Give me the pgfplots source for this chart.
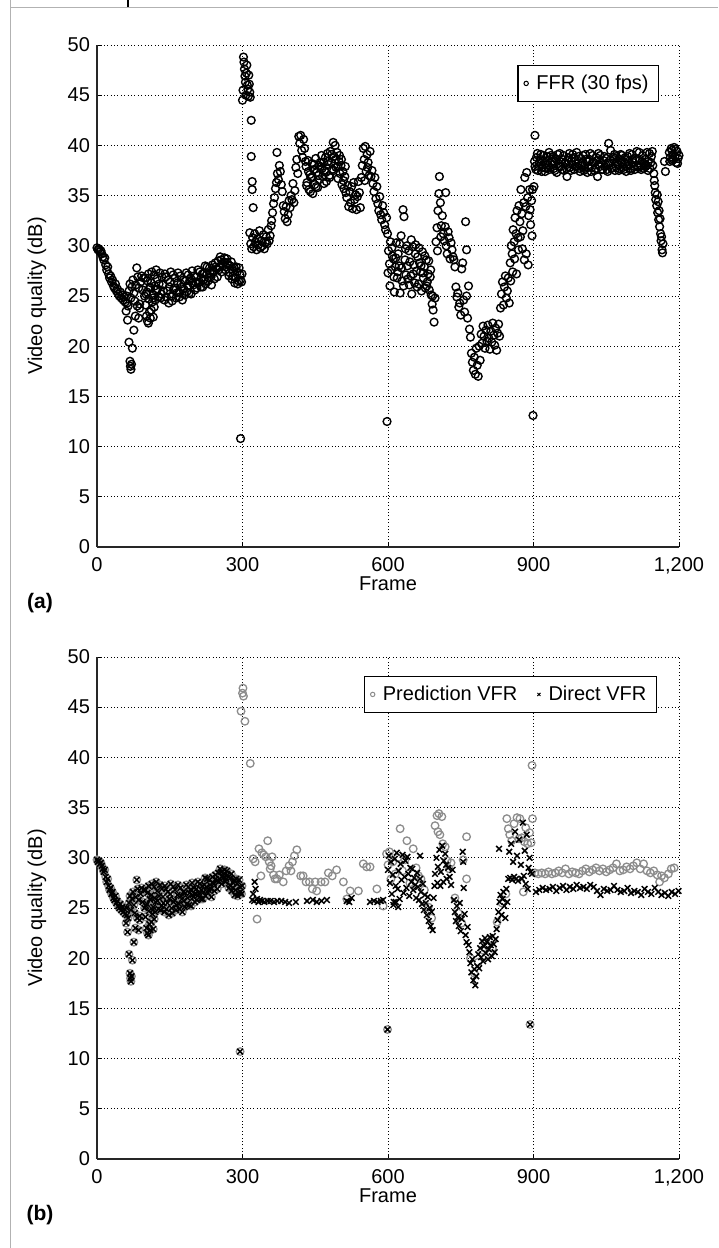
\documentclass[border=0pt]{standalone}
\usepackage{pgfplots}
\usepackage{pgfplotstable}
\pgfplotsset{compat=1.18}
\usepackage{fontspec}
\setmainfont{Liberation Sans}

% frames 0-299: identical in FFR (a) and in both VFR series (b)
\pgfplotstableread{
x y
0 29.8
2 29.6
4 29.7
6 29.4
8 29.5
10 29.2
12 28.9
14 28.6
16 28.8
18 28.1
20 27.6
22 27.9
24 27.2
26 26.8
28 27.0
30 26.4
32 26.6
34 26.0
36 25.8
38 26.2
40 25.5
42 25.7
44 25.2
46 25.0
48 25.4
50 24.8
52 25.1
54 24.6
56 24.9
58 24.4
60 23.5
61 25.0
62 24.3
63 22.6
64 24.0
66 20.4
66 25.5
68 18.5
68 26.2
69 18.0
70 17.7
70 24.8
71 18.2
72 25.9
73 19.8
74 26.6
76 21.6
76 25.3
78 24.5
79 23.0
80 26.1
82 27.8
83 24.0
84 26.9
86 22.8
86 25.8
88 23.8
88 24.2
90 26.4
92 27.0
94 25.6
96 26.8
98 25.0
100 24.1
100 26.8
101 25.2
102 23.0
103 25.4
104 22.5
104 26.5
106 22.3
106 27.2
107 24.7
108 23.4
109 25.9
110 22.8
110 25.8
112 23.6
112 26.3
113 27.4
114 24.4
115 24.8
116 22.9
116 25.1
118 23.9
118 27.1
119 26.0
120 24.6
121 25.6
122 27.6
124 26.7
125 25.7
127 24.9
128 26.2
130 27.3
131 24.8
133 25.2
134 26.9
136 26.1
137 25.5
139 24.6
140 27.2
142 26.9
143 24.9
145 25.5
146 26.6
148 24.3
149 25.9
151 26.4
152 27.4
154 25.0
155 24.5
157 27.1
158 25.6
160 25.8
161 26.8
163 24.8
164 25.3
166 26.3
167 27.3
169 25.4
170 24.9
172 27.0
173 26.2
175 25.9
176 24.6
178 26.6
179 25.7
181 25.1
182 26.5
184 27.3
185 25.4
187 26.0
188 27.1
190 25.3
191 26.5
193 26.8
194 25.2
196 27.5
197 26.3
199 26.1
200 27.0
202 25.6
203 26.4
205 26.9
206 25.8
208 27.6
209 26.3
211 26.4
212 27.4
214 25.9
215 26.8
217 27.2
218 25.9
220 26.6
221 27.3
223 28.0
224 26.2
226 27.1
227 27.9
229 26.5
230 26.8
232 27.8
233 27.3
235 26.9
236 26.1
238 28.1
239 27.5
241 27.4
242 26.7
244 28.3
245 27.9
247 27.7
248 26.9
250 28.5
251 27.6
253 27.9
254 28.9
256 28.6
257 27.4
259 28.2
260 28.0
262 28.4
263 28.8
265 27.6
266 27.9
268 28.7
269 28.3
271 28.1
272 27.0
274 27.3
275 28.0
277 28.4
278 26.7
280 27.0
281 27.5
283 27.8
284 26.3
286 26.8
287 27.9
289 27.4
290 26.2
292 26.5
293 27.8
295 27.1
296 26.6
298 26.4
299 27.2
}\ffrA

% (a) FFR, frames 295-1200
\pgfplotstableread{
x y
296 10.8
300 44.5
301 45.5
302 48.8
303 48.3
304 47.6
305 46.9
306 46.3
307 45.0
308 47.2
309 48.0
310 46.0
311 45.6
312 44.9
313 47.0
314 46.1
315 45.3
316 44.8
318 42.5
318 38.9
320 36.4
320 35.6
322 33.8
315 31.3
317 30.2
319 29.7
321 30.8
323 29.9
325 31.2
327 30.4
329 29.6
331 30.7
333 30.1
335 31.5
337 29.8
339 30.5
341 30.0
343 31.1
345 29.7
347 30.3
349 30.9
351 30.2
353 31.6
355 30.5
357 31.0
359 32.0
360 32.5
362 33.3
364 34.2
366 34.8
368 35.7
370 36.3
371 39.3
372 37.2
374 36.6
376 38.0
378 37.4
380 36.1
382 35.4
384 34.0
386 33.4
388 32.7
390 33.9
392 32.4
394 33.1
396 34.5
398 33.8
400 35.0
402 34.6
404 36.2
406 34.3
408 35.5
410 37.8
412 38.6
414 37.2
416 40.9
418 40.2
420 41.0
422 39.5
424 38.8
426 40.6
428 39.7
430 38.4
431 37.9
432 36.0
433 36.3
435 38.5
436 37.4
437 35.6
439 37.1
440 35.4
441 36.8
443 38.2
444 36.9
445 35.2
447 37.6
448 38.1
449 36.1
451 38.7
452 35.9
453 37.3
455 35.8
456 37.0
457 38.0
459 36.6
460 38.3
461 37.9
463 39.0
464 37.7
465 36.9
467 38.3
468 36.2
469 37.5
471 38.8
472 37.3
473 36.4
475 39.2
476 38.4
477 38.1
479 37.0
480 36.8
481 39.4
483 38.3
484 39.1
485 37.6
487 40.3
488 37.5
489 38.9
491 40.0
492 38.6
493 37.8
495 39.3
496 37.9
497 36.7
499 38.4
500 39.0
501 37.2
503 38.0
504 38.6
505 36.1
507 37.4
508 36.5
509 35.7
511 36.9
512 37.9
513 35.3
515 34.8
517 36.0
519 33.9
521 35.4
523 34.3
525 35.9
527 33.7
529 36.3
531 34.6
533 35.1
535 33.6
537 34.9
539 36.4
541 35.3
543 33.8
545 36.8
547 38.0
549 39.7
551 38.6
552 36.5
553 39.9
555 37.4
557 39.1
558 37.8
559 38.3
561 37.0
563 39.4
565 36.9
567 37.5
569 36.2
571 35.4
573 36.8
575 34.7
577 35.9
579 34.2
581 33.5
583 34.9
585 33.1
587 32.6
589 34.0
591 33.3
593 32.1
595 31.6
597 32.8
598 12.5
599 31.2
600 27.3
601 29.5
603 28.2
604 26.0
605 30.4
607 27.6
608 29.8
609 29.0
611 28.7
612 26.9
613 25.4
615 27.9
616 28.8
617 30.3
619 26.8
620 27.4
621 29.2
623 28.0
624 30.2
625 25.3
627 31.0
628 27.8
629 26.5
631 33.6
632 26.0
633 32.9
635 28.6
636 29.7
637 27.1
639 30.0
640 28.0
641 26.7
643 29.5
644 26.1
645 28.4
647 27.0
648 30.6
649 25.2
651 29.9
652 27.2
653 28.1
655 26.3
656 29.2
657 30.1
659 27.5
660 25.9
661 28.9
663 26.2
664 29.8
665 28.3
667 27.4
668 28.0
669 25.5
671 29.4
672 27.3
673 26.8
675 27.9
676 29.0
677 25.8
679 28.6
680 26.0
681 26.4
683 27.2
684 28.5
685 25.6
687 26.9
688 27.6
689 25.1
691 24.2
692 25.0
693 23.6
695 22.4
697 24.8
699 30.4
701 31.8
702 29.5
703 33.5
705 35.2
706 36.9
708 34.3
709 30.9
710 32.0
712 33.0
714 31.2
716 30.5
718 31.9
719 35.3
720 30.0
722 29.2
724 31.4
726 30.8
728 28.7
730 30.3
732 29.6
734 28.9
736 28.6
738 27.9
740 25.9
742 24.9
744 25.3
746 23.9
748 24.3
750 23.1
752 27.7
754 28.3
756 24.6
758 23.4
760 32.4
762 25.0
762 29.6
764 22.8
766 26.0
768 21.7
770 20.9
772 19.3
774 18.4
776 17.6
778 18.9
780 17.2
782 19.8
784 18.1
786 17.0
788 20.0
790 18.6
792 21.2
794 20.3
796 22.0
798 21.0
800 19.8
802 21.6
804 20.5
806 22.1
808 20.8
810 19.7
812 21.5
814 20.4
816 22.3
818 21.1
820 20.1
822 21.8
824 19.6
826 21.3
828 22.2
830 21.0
832 23.8
834 25.2
836 26.4
838 24.1
840 25.9
842 27.0
844 24.8
846 25.5
848 26.8
850 24.3
852 28.3
853 26.5
854 30.0
856 29.2
857 27.4
858 31.6
860 30.4
861 28.7
862 32.8
864 31.2
865 27.2
866 33.5
868 30.8
869 29.6
870 34.0
872 32.4
873 30.9
874 35.6
876 33.2
877 29.7
878 31.5
880 34.3
881 28.6
882 36.8
884 33.9
885 29.2
886 37.3
888 34.8
889 28.1
890 33.0
892 35.6
893 33.6
894 32.1
896 34.5
897 31.0
898 35.6
899 13.1
901 35.9
903 41.0
902 38.4
903 37.9
905 37.6
906 38.8
908 39.2
909 37.5
911 37.9
912 38.3
914 38.6
915 39.1
917 37.4
918 37.8
920 39.0
921 38.5
923 38.2
924 37.4
926 37.7
927 38.9
929 38.5
930 38.1
932 39.3
933 37.6
935 37.8
936 39.0
938 38.1
939 38.4
941 38.9
942 37.7
944 37.5
945 38.7
947 38.6
948 37.3
950 39.1
951 38.2
953 37.9
954 39.2
956 38.4
957 37.9
959 37.6
960 38.6
962 39.0
963 37.5
965 38.2
966 38.3
968 37.7
969 36.9
971 38.5
972 38.8
974 39.2
975 37.8
977 37.5
978 38.4
980 38.1
981 39.1
983 38.8
984 37.6
986 37.9
987 38.5
989 39.3
990 37.9
992 38.2
993 38.9
995 37.7
996 37.4
998 38.7
999 38.2
1001 38.0
1002 39.0
1004 37.5
1005 37.7
1007 39.1
1008 38.6
1010 38.4
1011 37.3
1013 37.8
1014 38.4
1016 38.6
1017 39.2
1019 37.4
1020 37.8
1022 39.0
1023 38.3
1025 38.3
1026 37.5
1028 37.7
1029 38.8
1031 38.5
1032 36.9
1034 39.2
1035 38.1
1037 37.9
1038 39.0
1040 38.2
1041 37.6
1043 37.6
1044 38.5
1046 38.9
1047 37.9
1049 38.1
1050 38.7
1052 37.6
1053 37.4
1055 40.2
1056 38.2
1058 38.3
1059 39.5
1061 37.7
1062 37.8
1064 38.8
1065 38.6
1067 39.1
1068 37.5
1070 37.9
1071 38.9
1073 38.4
1074 38.1
1076 37.5
1077 37.7
1079 38.6
1080 39.1
1082 39.0
1083 38.3
1085 37.8
1086 37.6
1088 38.2
1089 38.8
1091 37.4
1092 37.9
1094 38.9
1095 38.4
1097 38.0
1098 39.2
1100 37.7
1101 37.5
1103 39.1
1104 38.6
1106 38.3
1107 37.9
1109 37.6
1110 38.7
1112 38.5
1113 39.4
1115 38.0
1116 37.8
1118 39.3
1119 38.5
1121 37.9
1122 37.6
1124 38.4
1125 39.0
1127 37.7
1128 38.2
1130 38.6
1131 37.9
1133 38.0
1134 39.3
1136 37.5
1137 38.4
1139 39.2
1140 37.7
1142 38.3
1143 38.9
1145 39.4
1146 38.0
1148 37.2
1149 36.5
1150 36.0
1151 35.3
1152 34.6
1154 34.0
1155 35.1
1156 33.3
1157 34.4
1158 32.6
1159 33.5
1160 31.9
1161 32.7
1162 31.2
1163 30.5
1164 30.9
1165 29.6
1166 29.3
1167 30.2
1170 38.4
1172 37.4
1180 39.3
1181 38.4
1182 38.8
1184 39.7
1185 39.5
1186 38.5
1188 39.1
1189 38.6
1190 39.8
1192 38.9
1193 39.6
1194 38.3
1196 39.4
1197 38.2
1198 38.7
1200 39.0
}\ffrB

% (b) Prediction VFR, frames 295-1200
\pgfplotstableread{
x y
295 10.7
297 44.6
300 46.4
301 46.9
302 46.1
305 43.6
316 39.4
322 29.9
326 29.6
330 23.9
334 30.9
338 28.2
340 30.5
344 30.3
348 30.1
352 31.7
355 29.6
357 28.9
359 29.2
361 30.1
364 28.3
367 27.9
371 27.9
376 28.3
384 27.6
390 28.7
396 29.2
400 28.7
403 29.6
407 30.2
412 30.8
420 28.2
425 28.2
431 27.6
438 27.6
444 26.9
450 27.6
453 26.7
462 27.6
470 27.6
477 28.5
485 28.2
494 28.8
508 27.6
515 25.9
522 26.7
539 26.7
549 29.4
556 29.1
563 29.1
577 26.9
590 25.2
597 30.4
599 12.9
600 29.3
603 30.6
606 27.9
610 29.6
615 28.4
620 30.0
625 32.9
630 28.7
635 29.8
639 31.7
645 27.5
652 30.9
658 29.0
663 28.2
668 27.9
675 26.8
683 25.1
690 24.0
697 33.2
701 34.2
703 32.6
705 34.4
707 32.3
711 34.1
713 31.4
718 31.1
722 29.7
726 28.9
730 29.5
738 26.0
745 24.5
752 23.5
755 29.8
762 32.1
762 27.9
770 20.0
778 18.5
786 19.6
795 20.8
805 21.3
815 21.0
825 23.6
835 25.5
843 26.4
845 33.9
848 32.9
851 32.3
855 31.7
860 33.4
866 34.0
870 31.9
872 33.9
876 32.0
879 26.6
881 31.6
884 33.0
888 31.4
892 32.5
893 13.4
895 31.5
897 39.2
898 33.9
903 28.5
910 28.4
917 28.5
924 28.4
931 28.6
938 28.4
945 28.5
952 28.7
959 28.5
966 28.9
973 28.4
980 28.6
987 28.5
994 28.4
1001 28.7
1008 28.9
1015 28.6
1022 28.8
1029 29.0
1036 28.7
1043 28.9
1050 28.6
1057 28.8
1064 29.0
1071 29.4
1078 28.7
1085 28.8
1092 29.1
1099 28.9
1106 29.2
1113 29.5
1120 28.9
1127 29.4
1134 28.7
1141 28.5
1148 28.7
1155 28.3
1160 27.6
1164 28.2
1170 28.0
1178 28.4
1184 28.9
1190 29.0
}\predB

% (b) Direct VFR, frames 295-1200
\pgfplotstableread{
x y
295 10.7
320 25.8
322 26.4
324 25.7
325 27.6
327 26.9
330 25.9
333 25.6
336 25.8
340 25.7
345 25.6
352 25.7
358 25.7
365 25.6
372 25.7
380 25.7
388 25.6
396 25.5
410 25.6
433 25.7
445 25.8
453 25.6
463 25.7
474 25.8
515 25.7
520 25.6
525 26.0
563 25.6
571 25.7
578 25.6
585 25.7
590 25.8
599 12.9
600 28.8
602 30.2
604 27.5
606 29.6
608 26.4
610 28.3
611 25.3
612 25.6
614 29.9
616 27.2
616 25.6
618 30.5
620 26.9
621 25.1
622 28.7
624 25.9
626 29.4
628 27.8
630 30.3
632 26.5
634 28.1
636 29.7
638 27.0
640 30.1
642 28.4
644 26.2
646 29.0
648 27.6
650 28.9
652 26.8
654 28.0
656 27.3
658 26.0
660 28.5
662 27.1
664 25.8
666 30.2
666 27.9
668 26.6
670 25.4
672 27.4
674 24.8
676 26.3
678 25.5
680 24.3
682 26.1
684 23.7
686 25.0
688 23.2
690 24.6
692 22.8
694 26.0
696 27.2
697 28.4
700 30.0
702 27.5
703 29.1
706 30.8
708 27.2
709 28.6
712 31.2
714 27.6
715 29.7
718 30.4
720 29.3
721 27.9
724 29.0
727 28.1
730 27.3
733 28.8
736 25.8
738 24.6
740 23.7
742 25.2
744 24.1
746 23.2
748 25.5
750 22.7
752 23.9
754 30.6
755 29.6
756 27.0
758 24.4
760 22.3
762 21.6
764 23.1
766 21.3
768 20.6
770 19.5
772 18.6
774 19.9
776 17.8
778 18.9
780 17.3
782 18.2
784 19.2
786 20.4
788 19.0
790 21.0
792 20.1
794 21.7
796 19.7
798 21.2
800 22.0
802 20.5
804 21.6
806 19.9
808 20.9
810 22.1
812 21.3
814 20.2
816 22.2
818 21.4
820 20.6
822 21.9
824 22.9
826 23.8
828 24.6
829 30.9
830 25.6
832 26.3
834 24.3
836 25.9
838 26.6
840 25.2
842 24.0
844 26.9
846 25.6
848 27.9
850 30.6
852 28.0
854 31.4
856 27.8
858 29.6
860 28.1
862 32.6
864 27.9
866 30.2
868 27.7
870 31.8
874 29.3
876 27.9
878 33.5
880 28.2
882 30.7
884 27.4
886 32.3
888 26.9
890 29.0
892 30.0
893 13.4
894 28.6
897 28.4
905 26.6
912 26.8
919 27.0
926 26.8
933 26.9
940 27.1
947 26.7
954 27.0
961 27.2
968 26.8
975 27.1
982 26.9
989 27.3
996 27.0
1003 27.1
1010 26.9
1017 27.3
1024 27.1
1031 26.7
1038 26.3
1045 26.9
1052 26.7
1059 26.8
1066 27.2
1073 26.8
1080 26.6
1087 26.7
1094 27.0
1101 26.5
1108 26.7
1115 26.6
1122 26.3
1129 26.9
1136 26.6
1143 26.4
1150 27.0
1157 26.6
1164 26.3
1171 26.5
1178 26.2
1185 26.6
1192 26.4
1199 26.7
}\dirB

\pgfplotsset{
  myaxis/.style={
    scale only axis, width=291pt, height=251pt,
    xmin=0, xmax=1200, ymin=0, ymax=50,
    xtick={0,300,600,900,1200}, ytick={0,5,...,50},
    axis x line*=bottom, axis y line*=left,
    axis line style={-, black!85, line width=0.6pt},
    grid=major,
    major grid style={black, line width=0.5pt, dash pattern=on 0.5pt off 1.2pt},
    tick align=inside, major tick length=2.5pt,
    tick style={black, line width=0.5pt},
    /pgf/number format/assume math mode=true,
    /pgf/number format/1000 sep={,},
    ticklabel style={font=\fontsize{10}{12}\selectfont},
    xticklabel style={yshift=-1.5pt},
    label style={font=\fontsize{10}{12}\selectfont},
    xlabel={Frame}, ylabel={Video quality (dB)},
    xlabel style={at={(axis description cs:0.5,-0.0737)}, anchor=center},
    ylabel style={at={(axis description cs:-0.103,0.5)}, anchor=center},
    legend style={font=\fontsize{10}{12}\selectfont, draw=black, line width=0.6pt,
      inner xsep=3pt, inner ysep=2.5pt},
    legend cell align=left,
  },
}

\begin{document}
\begin{tikzpicture}
\useasboundingbox (0,0) rectangle (359pt,-624pt);
% scan border lines
\draw[gray!60, line width=0.6pt] (5.3pt,0) -- (5.3pt,-624pt);
\draw[gray!60, line width=0.6pt] (5.3pt,-3.7pt) -- (359pt,-3.7pt);
\draw[black, line width=0.6pt] (64pt,0) -- (64pt,-3.5pt);

\begin{axis}[myaxis, at={(48.5pt,-273.5pt)}, anchor=south west,
    legend style={at={(0.966,0.96)}, anchor=north east}]
  \addplot[only marks, mark=o, mark size=1.95pt, black, line width=0.7pt,
    legend image post style={mark size=1.1pt, line width=0.5pt}] table {\ffrA};
  \addlegendentry{\hspace{2pt}FFR (30 fps)}
  \addplot[only marks, mark=o, mark size=1.95pt, black, line width=0.7pt, forget plot] table {\ffrB};
\end{axis}

\begin{axis}[myaxis, at={(48.5pt,-579.5pt)}, anchor=south west,
    legend style={at={(0.962,0.962)}, anchor=north east}, legend columns=2,
    legend style={/tikz/every even column/.append style={column sep=8pt}}]
  \addplot[only marks, mark=o, mark size=1.9pt, black!45, line width=0.65pt,
    legend image post style={mark size=1.1pt, line width=0.5pt}] table {\ffrA};
  \addlegendentry{\hspace{2pt}Prediction VFR}
  \addplot[only marks, mark=x, mark size=2pt, black, line width=0.75pt,
    legend image post style={mark size=1.1pt, line width=0.5pt}] table {\ffrA};
  \addlegendentry{\hspace{2pt}Direct VFR}
  \addplot[only marks, mark=o, mark size=1.9pt, black!45, line width=0.65pt, forget plot] table {\predB};
  \addplot[only marks, mark=x, mark size=2pt, black, line width=0.75pt, forget plot] table {\dirB};
\end{axis}

\node[font=\fontsize{10.5}{12}\selectfont\bfseries] at (20pt,-301.5pt) {(a)};
\node[font=\fontsize{10.5}{12}\selectfont\bfseries] at (20pt,-607.5pt) {(b)};
\end{tikzpicture}
\end{document}
